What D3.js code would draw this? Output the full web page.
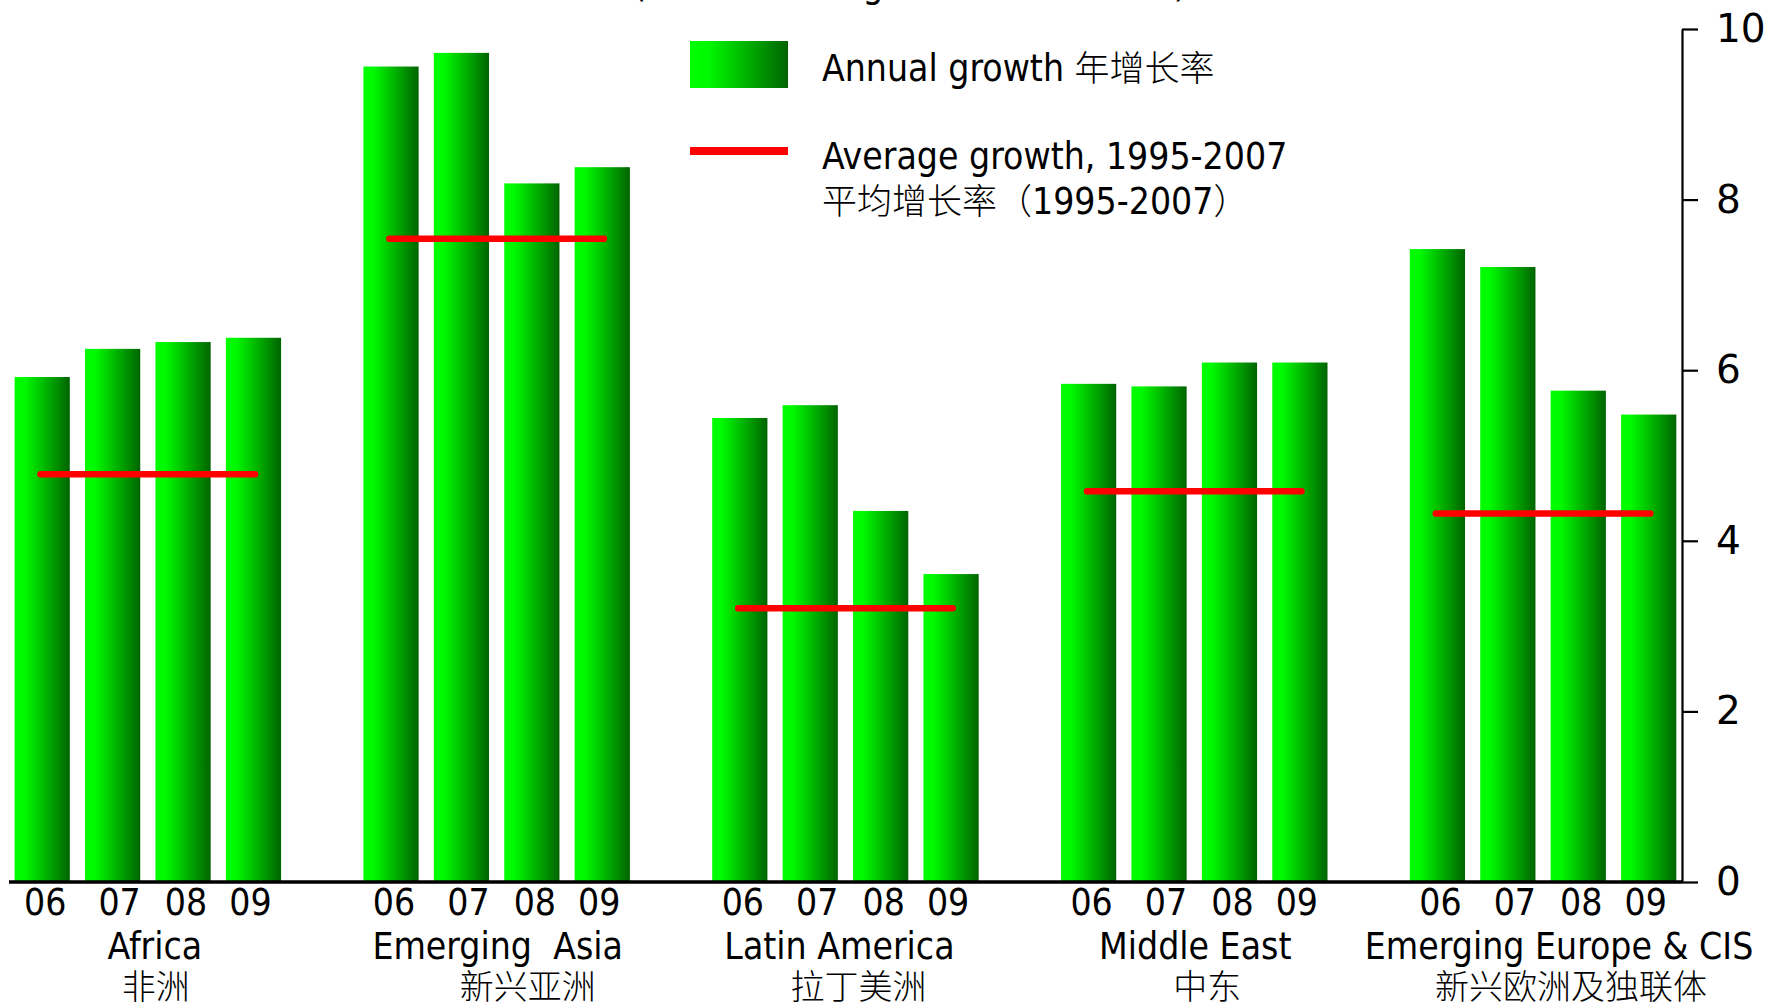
<!DOCTYPE html>
<html>
<head>
<meta charset="utf-8">
<script src="https://cdn.jsdelivr.net/npm/d3@7"></script>
<style>
  html, body { margin: 0; padding: 0; background: #fff; }
  svg { display: block; }
  .lat { font-family: "DejaVu Sans Condensed", "DejaVu Sans", sans-serif; font-stretch: condensed; }
  .cjk { font-family: "Noto Sans CJK SC", sans-serif; font-weight: 300; }
</style>
</head>
<body>
<svg id="chart" width="1767" height="1008"></svg>
<script>
// Regions and years
const regions = ["Africa", "Emerging  Asia", "Latin America", "Middle East", "Emerging Europe & CIS"];
const regionsZh = ["非洲", "新兴亚洲", "拉丁美洲", "中东", "新兴欧洲及独联体"];
const years = ["06", "07", "08", "09"];

// Annual growth (%) per region, 2006-2009
const africa       = [5.92, 6.25, 6.33, 6.38];
const emergingAsia = [9.56, 9.72, 8.19, 8.38];
const latinAmerica = [5.44, 5.59, 4.35, 3.61];
const middleEast   = [5.84, 5.81, 6.09, 6.09];
const emergingEur  = [7.42, 7.21, 5.76, 5.48];
const annualGrowth = [africa, emergingAsia, latinAmerica, middleEast, emergingEur];

// Average growth 1995-2007 (%)
const averageGrowth = [4.78, 7.54, 3.21, 4.58, 4.32];

// Right-hand axis ticks
const yTicks = [0, 2, 4, 6, 8, 10];

const svg = d3.select("#chart");

const defs = svg.append("defs");
const grad = defs.append("linearGradient")
  .attr("id", "barGrad").attr("x1", "0%").attr("x2", "100%").attr("y1", "0%").attr("y2", "0%");
grad.append("stop").attr("offset", "0%").attr("stop-color", "#00ff00");
grad.append("stop").attr("offset", "18%").attr("stop-color", "#00fa00");
grad.append("stop").attr("offset", "100%").attr("stop-color", "#006400");

const y = d3.scaleLinear().domain([0, 10]).range([882, 29]);

const x0 = d3.scaleBand().domain(d3.range(regions.length))
  .range([14.6, 1676.3]).paddingInner(0.236).paddingOuter(0);
const x1 = d3.scaleBand().domain(years)
  .range([0, x0.bandwidth()]).paddingInner(0.216).paddingOuter(0);

// Bars
const groups = svg.append("g").selectAll("g")
  .data(annualGrowth).join("g")
  .attr("transform", (d, i) => `translate(${x0(i)},0)`);

groups.selectAll("rect")
  .data(d => d.map((v, j) => ({ year: years[j], v })))
  .join("rect")
  .attr("x", d => x1(d.year))
  .attr("y", d => y(d.v))
  .attr("width", x1.bandwidth())
  .attr("height", d => y(0) - y(d.v))
  .attr("fill", "url(#barGrad)");

// Average lines
svg.append("g").selectAll("line")
  .data(averageGrowth).join("line")
  .attr("x1", (d, i) => x0(i) + 26)
  .attr("x2", (d, i) => x0(i) + x0.bandwidth() - 26)
  .attr("y1", d => y(d)).attr("y2", d => y(d))
  .attr("stroke", "#ff0000").attr("stroke-width", 6.5).attr("stroke-linecap", "round");

// Baseline
svg.append("line")
  .attr("x1", 9).attr("x2", 1682).attr("y1", y(0)).attr("y2", y(0))
  .attr("stroke", "#000").attr("stroke-width", 3.5);

// Right value axis
const yAxis = svg.append("g")
  .attr("transform", "translate(1682,0)")
  .call(d3.axisRight(y).tickValues(yTicks).tickFormat(d3.format("d"))
    .tickSizeInner(16).tickSizeOuter(0).tickPadding(18));
yAxis.select(".domain").attr("stroke", "#000").attr("stroke-width", 2.2);
yAxis.selectAll(".tick line").attr("stroke", "#000").attr("stroke-width", 2.2);
yAxis.selectAll(".tick text")
  .attr("fill", "#000")
  .style("font-family", "'DejaVu Sans', sans-serif")
  .style("font-size", "39px");

// Year labels under each bar
const yearDx = [3, 7, 3, -3];
groups.selectAll("text.yr")
  .data(years).join("text")
  .attr("class", "yr lat")
  .attr("x", (d, j) => x1(d) + x1.bandwidth() / 2 + yearDx[j])
  .attr("y", 915)
  .attr("text-anchor", "middle")
  .style("font-size", "37px")
  .text(d => d);

// Region names
const nameDx = [7, 1, -6, 1, 16];
const zhDx = [8, 31, 13, 13, 28];
svg.append("g").selectAll("text")
  .data(regions).join("text")
  .attr("class", "lat")
  .attr("x", (d, i) => x0(i) + x0.bandwidth() / 2 + nameDx[i])
  .attr("y", 959)
  .attr("text-anchor", "middle")
  .style("font-size", "37px")
  .style("white-space", "pre")
  .attr("xml:space", "preserve")
  .text(d => d);

svg.append("g").selectAll("text")
  .data(regionsZh).join("text")
  .attr("class", "cjk")
  .attr("x", (d, i) => x0(i) + x0.bandwidth() / 2 + zhDx[i])
  .attr("y", 999)
  .attr("text-anchor", "middle")
  .style("font-size", "34px")
  .text(d => d);

// Title (runs off the top edge)
svg.append("text")
  .attr("x", 633).attr("y", -3)
  .style("font-size", "37px")
  .html('<tspan class="lat">(Percent change </tspan><tspan class="cjk">同比百分比变化</tspan><tspan class="lat">)</tspan>');

// Legend
const legend = svg.append("g");
legend.append("rect")
  .attr("x", 690).attr("y", 41).attr("width", 98).attr("height", 47)
  .attr("fill", "url(#barGrad)");
legend.append("line")
  .attr("x1", 690).attr("x2", 788).attr("y1", 151).attr("y2", 151)
  .attr("stroke", "#ff0000").attr("stroke-width", 8);

const t1 = legend.append("text").attr("x", 822).attr("y", 81).style("font-size", "37px");
t1.append("tspan").attr("class", "lat").text("Annual growth ");
t1.append("tspan").attr("class", "cjk").style("font-size", "35px").text("年增长率");

legend.append("text").attr("class", "lat")
  .attr("x", 822).attr("y", 169).style("font-size", "37px")
  .text("Average growth, 1995-2007");

const t3 = legend.append("text").attr("x", 822).attr("y", 214).style("font-size", "35px");
t3.append("tspan").attr("class", "cjk").text("平均增长率（");
t3.append("tspan").attr("class", "lat").style("font-size", "37px").text("1995-2007");
t3.append("tspan").attr("class", "cjk").text("）");
</script>
</body>
</html>
